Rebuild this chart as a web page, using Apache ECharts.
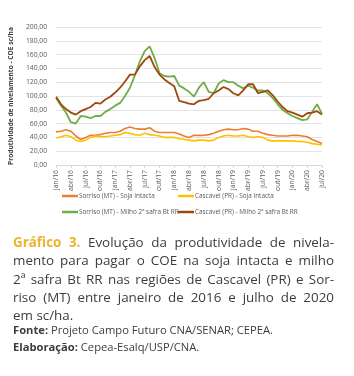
<!DOCTYPE html>
<html>
<head>
<meta charset="utf-8">
<script src="https://cdn.jsdelivr.net/npm/echarts@6/dist/echarts.min.js"></script>
<style>
  html, body { margin: 0; padding: 0; background: #fff; }
  .wrap { position: relative; width: 354px; height: 376px; overflow: hidden; }
  #chart { position: absolute; left: 0; top: 0; width: 354px; height: 240px; }
  .caption {
    position: absolute; left: 13px; top: 233px; width: 321px;
    font-family: "Open Sans", sans-serif; font-size: 13.4px;
    color: #3d3d3d;
  }
  .caption div {
    height: 18.3px; line-height: 18.3px;
    white-space: nowrap; text-align: justify; text-align-last: justify;
  }
  .caption div.last { text-align-last: left; }
  .caption b { color: #ecb42c; font-weight: 700; }
  .note {
    position: absolute; left: 13px; font-family: "Open Sans", sans-serif;
    font-size: 11.2px; color: #3d3d3d;
  }
  .note b { font-weight: 700; }
</style>
</head>
<body>
<div class="wrap">
  <div id="chart"></div>
  <div class="caption">
    <div><b>Gráfico 3.</b> Evolução da produtividade de nivela-</div>
    <div>mento para pagar o COE na soja intacta e milho</div>
    <div>2ª safra Bt RR nas regiões de Cascavel (PR) e Sor-</div>
    <div>riso (MT) entre janeiro de 2016 e julho de 2020</div>
    <div class="last">em sc/ha.</div>
  </div>
  <div class="note" style="top:322px"><b>Fonte:</b> Projeto Campo Futuro CNA/SENAR; CEPEA.</div>
  <div class="note" style="top:339px"><b>Elaboração:</b> Cepea-Esalq/USP/CNA.</div>
</div>
<script>
// meses jan/16 .. jul/20
const meses = ['jan','fev','mar','abr','mai','jun','jul','ago','set','out','nov','dez']
const categorias = []
for (let a = 16; a <= 20; a++) {
  for (let m = 0; m < 12; m++) {
    if (a === 20 && m > 6) break
    categorias.push(meses[m] + '/' + a)
  }
}

const sorrisoSoja = [48, 49, 51, 49, 42, 37, 40, 43, 43, 44, 46, 47, 47, 49, 53, 55, 53, 52, 52, 54,
  49, 47, 47, 47, 47, 45, 42, 40, 43, 43, 43, 44, 46, 49, 51, 52, 51, 51, 53, 52,
  49, 49, 46, 44, 43, 42, 42, 42, 43, 43, 42, 41, 37, 34, 31]
const cascavelSoja = [39, 41, 43, 41, 36, 34, 36, 40, 42, 41, 41, 42, 43, 44, 47, 46, 44, 43, 46, 44,
  43, 42, 40, 40, 40, 38, 37, 36, 35, 36, 36, 35, 36, 40, 42, 43, 42, 42, 43, 41,
  40, 41, 40, 36, 35, 35, 35, 35, 35, 34, 34, 33, 31, 30, 29]
const sorrisoMilho = [97, 86, 76, 62, 60, 71, 70, 68, 71, 71, 77, 81, 86, 90, 100, 112, 130, 150, 165, 172,
  155, 133, 129, 128, 129, 115, 111, 106, 99, 112, 120, 106, 104, 118, 123, 120, 120, 115, 111, 115,
  112, 108, 108, 104, 97, 88, 80, 75, 71, 68, 65, 66, 77, 88, 74]
const cascavelMilho = [99, 88, 81, 76, 73, 78, 81, 84, 90, 89, 95, 99, 105, 112, 121, 131, 131, 143, 152, 158,
  142, 131, 124, 119, 114, 93, 91, 89, 88, 93, 94, 96, 104, 108, 113, 110, 104, 101, 108, 117,
  117, 104, 106, 108, 101, 92, 84, 78, 76, 73, 70, 75, 76, 78, 73]

const nomes = [
  'Sorriso (MT) - Soja Intacta',
  'Cascavel (PR) - Soja Intacta',
  'Sorriso (MT) - Milho 2ª safra Bt RR',
  'Cascavel (PR) - Milho 2ª safra Bt RR'
]
const cores = ['#ed7d31', '#ffc000', '#70ad47', '#9e480e']
const dados = [sorrisoSoja, cascavelSoja, sorrisoMilho, cascavelMilho]

const chart = echarts.init(document.getElementById('chart'))

// posições da legenda (2 linhas x 2 colunas)
const legPos = [[57, 188], [173, 188], [57, 204], [173, 204]]
const legendas = nomes.map((n, i) => ({
  data: [n],
  left: legPos[i][0],
  top: legPos[i][1],
  icon: 'rect',
  itemWidth: 16,
  itemHeight: 2.5,
  itemGap: 0,
  textStyle: { fontSize: 6.4, color: '#595959', fontFamily: 'Open Sans', padding: [0, 0, 0, -4] }
}))

chart.setOption({
  animation: false,
  textStyle: { fontFamily: 'Open Sans' },
  legend: legendas,
  grid: { left: 52, right: 32, top: 27, height: 138 },
  xAxis: {
    type: 'category',
    data: categorias,
    boundaryGap: false,
    axisLine: { lineStyle: { color: '#d9d9d9' } },
    axisTick: { show: true, interval: 2, length: 3, lineStyle: { color: '#d9d9d9' } },
    axisLabel: { interval: 2, rotate: 90, fontSize: 6.8, color: '#595959', margin: 5 }
  },
  yAxis: {
    type: 'value',
    min: 0,
    max: 200,
    interval: 20,
    name: 'Produtividade de nivelamento - COE sc/ha',
    nameLocation: 'middle',
    nameGap: 34,
    nameTextStyle: { fontSize: 6.6, fontWeight: 'bold', color: '#404040' },
    axisLine: { show: false },
    axisTick: { show: false },
    axisLabel: {
      fontSize: 6.8, color: '#595959', margin: 9,
      formatter: v => v.toFixed(2).replace('.', ',')
    },
    splitLine: { lineStyle: { color: '#e3e3e3' } }
  },
  series: nomes.map((n, i) => ({
    name: n,
    type: 'line',
    data: dados[i],
    symbol: 'none',
    z: i < 2 ? 2 : 3,
    itemStyle: { color: cores[i] },
    lineStyle: { color: cores[i], width: i < 2 ? 1.6 : 1.8 }
  }))
})
</script>
</body>
</html>
